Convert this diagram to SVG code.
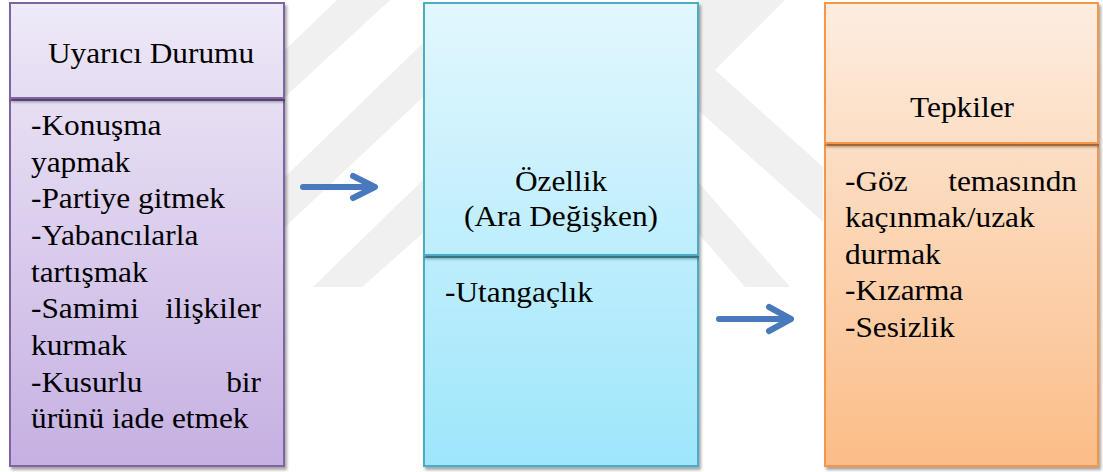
<svg xmlns="http://www.w3.org/2000/svg" width="1103" height="472" viewBox="0 0 1103 472">
  <style>
    .wm { fill: #F0F0F0; }
    .arrow { fill: none; stroke: #4779BC; stroke-width: 6; stroke-linecap: round; stroke-linejoin: round; }
  </style>
  <defs>
    <filter id="sh" x="-5%" y="-5%" width="115%" height="115%">
      <feDropShadow dx="2" dy="3" stdDeviation="1.6" flood-color="#000" flood-opacity="0.35"/>
    </filter>
    <linearGradient id="gP" gradientUnits="userSpaceOnUse" x1="0" y1="3" x2="0" y2="466">
      <stop offset="0" stop-color="#F0EBF8"/>
      <stop offset="1" stop-color="#C5B0E2"/>
    </linearGradient>
    <linearGradient id="gPh" gradientUnits="userSpaceOnUse" x1="0" y1="3" x2="0" y2="98">
      <stop offset="0" stop-color="#EFEAF8"/>
      <stop offset="1" stop-color="#E4DCF2"/>
    </linearGradient>
    <linearGradient id="gB" gradientUnits="userSpaceOnUse" x1="0" y1="3" x2="0" y2="466">
      <stop offset="0" stop-color="#E2F7FE"/>
      <stop offset="1" stop-color="#9EE6FB"/>
    </linearGradient>
    <linearGradient id="gO" gradientUnits="userSpaceOnUse" x1="0" y1="3" x2="0" y2="466">
      <stop offset="0" stop-color="#FDEDE0"/>
      <stop offset="1" stop-color="#FBBD88"/>
    </linearGradient>
  </defs>

  <rect width="1103" height="472" fill="#FFFFFF"/>

  <g id="watermark">
    <polygon class="wm" points="285,50 337,0 390,0 285,97"/>
    <polygon class="wm" points="423,43 423,97 285,227 285,177"/>
    <polygon class="wm" points="423,180 423,233 362,287 313,287"/>
    <polygon class="wm" points="698,0 785,0 715,70 823,167 823,222 698,110"/>
    <polygon class="wm" points="698,182 698,233 745,287 790,287"/>
  </g>

  <g id="node-uyarici">
    <rect x="10" y="100" width="274" height="366" fill="url(#gP)" stroke="#8064A2" stroke-width="2" filter="url(#sh)"/>
    <rect x="10" y="3" width="274" height="95" fill="url(#gPh)" stroke="#8064A2" stroke-width="2" filter="url(#sh)"/>
    <text font-family="Times New Roman" font-size="28.5" text-anchor="middle" transform="translate(151,63) scale(1.1,1)">Uyarıcı Durumu</text>
    <text font-family="Times New Roman" font-size="28.5" transform="translate(31,135) scale(1.1,1)">-Konuşma</text>
    <text font-family="Times New Roman" font-size="28.5" transform="translate(31,171.5) scale(1.1,1)">yapmak</text>
    <text font-family="Times New Roman" font-size="28.5" transform="translate(31,208) scale(1.1,1)">-Partiye gitmek</text>
    <text font-family="Times New Roman" font-size="28.5" transform="translate(31,245) scale(1.1,1)">-Yabancılarla</text>
    <text font-family="Times New Roman" font-size="28.5" transform="translate(31,281.5) scale(1.1,1)">tartışmak</text>
    <text font-family="Times New Roman" font-size="28.5" transform="translate(31,318) scale(1.1,1)">-Samimi</text>
    <text font-family="Times New Roman" font-size="28.5" text-anchor="end" transform="translate(261,318) scale(1.1,1)">ilişkiler</text>
    <text font-family="Times New Roman" font-size="28.5" transform="translate(31,355) scale(1.1,1)">kurmak</text>
    <text font-family="Times New Roman" font-size="28.5" transform="translate(31,391.5) scale(1.1,1)">-Kusurlu</text>
    <text font-family="Times New Roman" font-size="28.5" text-anchor="end" transform="translate(261,391.5) scale(1.1,1)">bir</text>
    <text font-family="Times New Roman" font-size="28.5" transform="translate(31,428) scale(1.1,1)">ürünü iade etmek</text>
  </g>

  <g id="node-ozellik">
    <rect x="424" y="257" width="274" height="209" fill="url(#gB)" stroke="#4BACC6" stroke-width="2" filter="url(#sh)"/>
    <rect x="424" y="3" width="274" height="252" fill="url(#gB)" stroke="#4BACC6" stroke-width="2" filter="url(#sh)"/>
    <text font-family="Times New Roman" font-size="28.5" text-anchor="middle" transform="translate(561,190.5) scale(1.1,1)">Özellik</text>
    <text font-family="Times New Roman" font-size="28.5" text-anchor="middle" transform="translate(561,226) scale(1.1,1)">(Ara Değişken)</text>
    <text font-family="Times New Roman" font-size="28.5" transform="translate(445,301.5) scale(1.1,1)">-Utangaçlık</text>
  </g>

  <g id="node-tepkiler">
    <rect x="825" y="145" width="273" height="321" fill="url(#gO)" stroke="#F79646" stroke-width="2" filter="url(#sh)"/>
    <rect x="825" y="3" width="273" height="140" fill="url(#gO)" stroke="#F79646" stroke-width="2" filter="url(#sh)"/>
    <text font-family="Times New Roman" font-size="28.5" text-anchor="middle" transform="translate(962,116.5) scale(1.1,1)">Tepkiler</text>
    <text font-family="Times New Roman" font-size="28.5" transform="translate(845,190.5) scale(1.1,1)">-Göz</text>
    <text font-family="Times New Roman" font-size="28.5" text-anchor="end" transform="translate(1077,190.5) scale(1.1,1)">temasındn</text>
    <text font-family="Times New Roman" font-size="28.5" transform="translate(845,227) scale(1.1,1)">kaçınmak/uzak</text>
    <text font-family="Times New Roman" font-size="28.5" transform="translate(845,263.5) scale(1.1,1)">durmak</text>
    <text font-family="Times New Roman" font-size="28.5" transform="translate(845,300) scale(1.1,1)">-Kızarma</text>
    <text font-family="Times New Roman" font-size="28.5" transform="translate(845,336.5) scale(1.1,1)">-Sesizlik</text>
  </g>

  <g id="connectors">
    <path class="arrow" d="M303,187 H372 M353,176 L375,187 L353,198"/>
    <path class="arrow" d="M719,319 H788 M769,307 L791,319 L769,331"/>
  </g>
</svg>
